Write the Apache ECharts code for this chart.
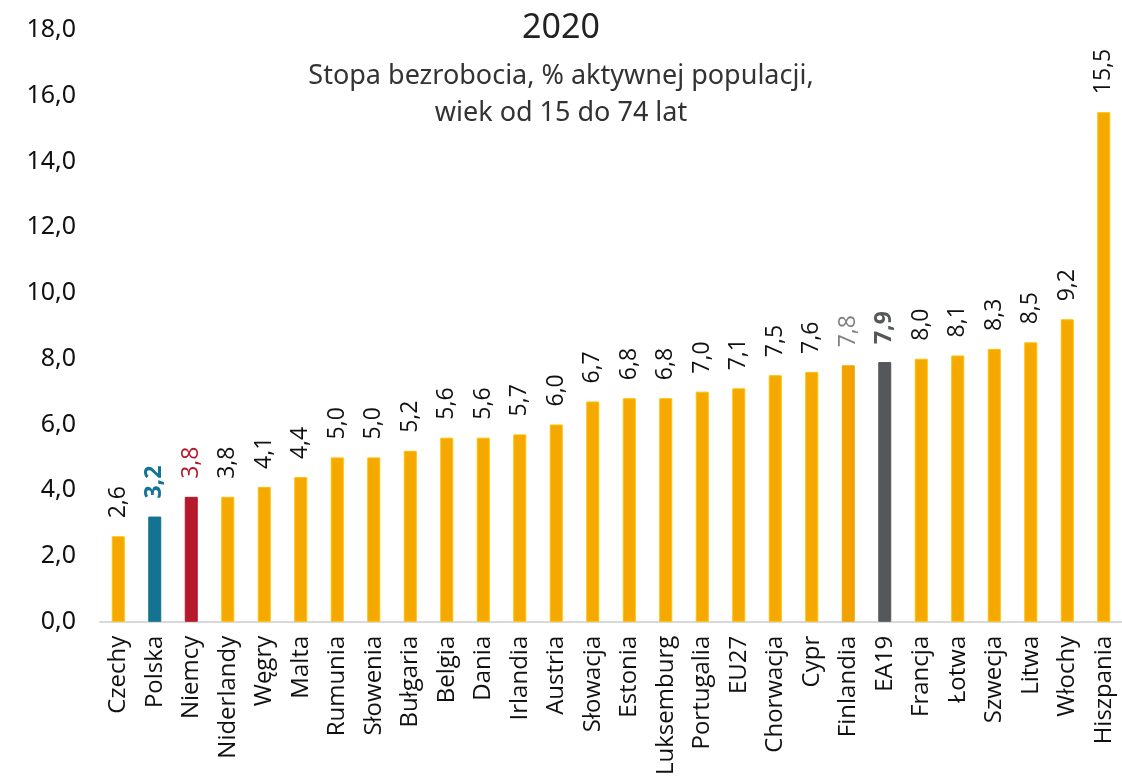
<!DOCTYPE html>
<html>
<head>
<meta charset="utf-8">
<script src="https://cdn.jsdelivr.net/npm/echarts@6/dist/echarts.min.js"></script>
<style>
  html, body { margin: 0; padding: 0; background: #fff; }
  #chart { width: 1122px; height: 778px; }
</style>
</head>
<body>
<div id="chart"></div>
<script>
const countries = ['Czechy', 'Polska', 'Niemcy', 'Niderlandy', 'Węgry', 'Malta', 'Rumunia', 'Słowenia',
  'Bułgaria', 'Belgia', 'Dania', 'Irlandia', 'Austria', 'Słowacja', 'Estonia', 'Luksemburg',
  'Portugalia', 'EU27', 'Chorwacja', 'Cypr', 'Finlandia', 'EA19', 'Francja', 'Łotwa', 'Szwecja',
  'Litwa', 'Włochy', 'Hiszpania']
const rates = [2.6, 3.2, 3.8, 3.8, 4.1, 4.4, 5.0, 5.0, 5.2, 5.6, 5.6, 5.7, 6.0, 6.7, 6.8, 6.8,
  7.0, 7.1, 7.5, 7.6, 7.8, 7.9, 8.0, 8.1, 8.3, 8.5, 9.2, 15.5]
const yTicks = [0, 2, 4, 6, 8, 10, 12, 14, 16, 18]

// kolory wyróżnień
const highlight = {
  'Polska': { bar: '#137391', label: '#137391', bold: true },
  'Niemcy': { bar: '#B5192B', label: '#B5192B', bold: false },
  'Finlandia': { bar: '#F2A200', label: '#7F7F7F', bold: false },
  'EA19': { bar: '#55585A', label: '#55585A', bold: true }
}

const chart = echarts.init(document.getElementById('chart'))

const data = rates.map(function (v, i) {
  const h = highlight[countries[i]]
  const item = { value: v }
  if (h) {
    item.itemStyle = { color: h.bar, borderColor: h.bar }
    item.label = { color: h.label, fontWeight: h.bold ? 'bold' : 'normal' }
  }
  return item
})

const option = {
  animation: false,
  title: [
    {
      text: '2020',
      left: 'center',
      top: 6,
      textStyle: { fontFamily: 'Noto Sans', fontSize: 34, fontWeight: 'normal', color: '#222' }
    },
    {
      text: 'Stopa bezrobocia, % aktywnej populacji,\nwiek od 15 do 74 lat',
      left: 'center',
      top: 53,
      textStyle: { fontFamily: 'Noto Sans', fontSize: 27, fontWeight: 'normal', color: '#333', lineHeight: 37, align: 'center' }
    }
  ],
  grid: { left: 100, right: 0, top: 30, bottom: 153 },
  xAxis: {
    type: 'category',
    data: countries,
    axisLine: { lineStyle: { color: '#D9D9D9', width: 2 } },
    axisTick: { show: false },
    axisLabel: {
      rotate: 90,
      interval: 0,
      margin: 14,
      fontFamily: 'Open Sans',
      fontSize: 24,
      color: '#111'
    }
  },
  yAxis: {
    type: 'value',
    min: yTicks[0],
    max: yTicks[yTicks.length - 1],
    interval: 2,
    splitLine: { show: false },
    axisLine: { show: false },
    axisLabel: {
      fontFamily: 'Noto Sans',
      fontSize: 25,
      color: '#111',
      margin: 24,
      formatter: function (v) { return v.toFixed(1).replace('.', ',') }
    }
  },
  series: [{
    type: 'bar',
    data: data,
    barWidth: 13,
    itemStyle: { color: '#F5A800', borderColor: '#FFC000', borderWidth: 1 },
    label: {
      show: true,
      position: 'top',
      rotate: 90,
      align: 'left',
      verticalAlign: 'middle',
      distance: 18,
      fontFamily: 'Open Sans',
      fontSize: 23,
      color: '#111',
      formatter: function (p) { return p.value.toFixed(1).replace('.', ',') }
    }
  }]
}

chart.setOption(option)
</script>
</body>
</html>
